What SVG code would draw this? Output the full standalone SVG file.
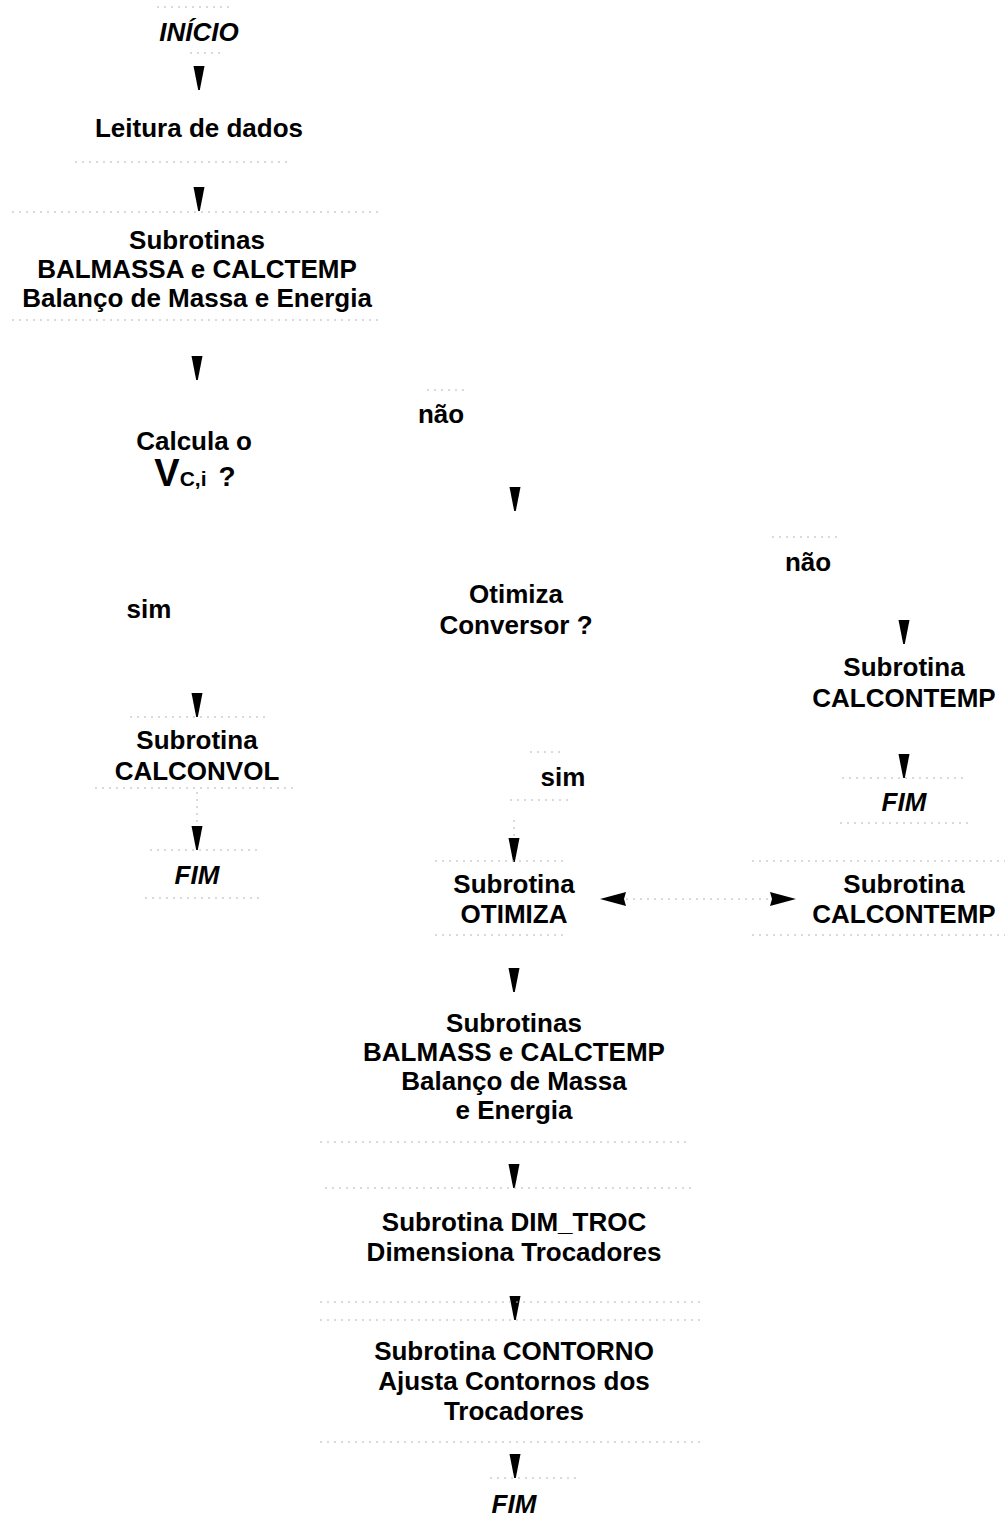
<svg xmlns="http://www.w3.org/2000/svg" width="1007" height="1526" viewBox="0 0 1007 1526">
<style>
.t{font-family:"Liberation Sans",Arial,sans-serif;font-weight:bold;font-size:26px;fill:#000;text-anchor:middle}
.i{font-style:italic}
.f{fill:none;stroke:#b4b4b4;stroke-width:1;stroke-dasharray:2 5}
.a{fill:#000}
</style>
<defs>
<path id="ad" d="M-5.5,-24 L5.5,-24 L0.8,0 L-0.8,0 Z"/>
<path id="al" d="M0,0 L26,-7 L24,0 L26,7 Z"/>
</defs>
<rect width="1007" height="1526" fill="#fff"/>

<g id="connectors">
<use href="#ad" class="a" x="199" y="90"/>
<use href="#ad" class="a" x="199" y="211"/>
<use href="#ad" class="a" x="197" y="380"/>
<use href="#ad" class="a" x="515" y="511"/>
<use href="#ad" class="a" x="904" y="644"/>
<use href="#ad" class="a" x="197" y="717"/>
<use href="#ad" class="a" x="904" y="778"/>
<line class="f" x1="197" y1="792" x2="197" y2="826"/>
<use href="#ad" class="a" x="197" y="850"/>
<line class="f" x1="514" y1="820" x2="514" y2="840"/>
<use href="#ad" class="a" x="514" y="862"/>
<use href="#ad" class="a" x="514" y="992"/>
<use href="#ad" class="a" x="514" y="1188"/>
<use href="#ad" class="a" x="515" y="1320"/>
<use href="#ad" class="a" x="515" y="1478"/>
<line class="f" x1="626" y1="899" x2="772" y2="899"/>
<use href="#al" class="a" transform="translate(600,899)"/>
<use href="#al" class="a" transform="translate(796,899) scale(-1,1)"/>
</g>

<g id="inicio">
<line class="f" x1="157" y1="7" x2="232" y2="7"/>
<line class="f" x1="190" y1="53" x2="222" y2="53"/>
<text class="t i" x="199" y="41">INÍCIO</text>
</g>

<g id="leitura">
<text class="t" x="199" y="137">Leitura de dados</text>
<line class="f" x1="75" y1="162" x2="292" y2="162"/>
</g>

<g id="balmassa1">
<line class="f" x1="12" y1="212" x2="378" y2="212"/>
<text class="t" x="197" y="249">Subrotinas</text>
<text class="t" x="197" y="278">BALMASSA e CALCTEMP</text>
<text class="t" x="197" y="307" font-size="27">Balanço de Massa e Energia</text>
<line class="f" x1="12" y1="320" x2="378" y2="320"/>
</g>

<g id="decisao1">
<text class="t" x="194" y="450">Calcula o</text>
<text class="t" x="195" y="486"><tspan font-size="38">V</tspan><tspan font-size="21">C,i</tspan><tspan font-size="28" dx="12">?</tspan></text>
</g>

<g id="nao1">
<line class="f" x1="427" y1="390" x2="465" y2="390"/>
<text class="t" x="441" y="423">não</text>
</g>

<g id="sim1">
<text class="t" x="149" y="618">sim</text>
</g>

<g id="decisao2">
<text class="t" x="516" y="603">Otimiza</text>
<text class="t" x="516" y="634">Conversor ?</text>
</g>

<g id="nao2">
<line class="f" x1="772" y1="537" x2="838" y2="537"/>
<text class="t" x="808" y="571">não</text>
</g>

<g id="calcontemp1">
<text class="t" x="904" y="676">Subrotina</text>
<text class="t" x="904" y="707">CALCONTEMP</text>
</g>

<g id="calconvol">
<line class="f" x1="130" y1="717" x2="265" y2="717"/>
<text class="t" x="197" y="749">Subrotina</text>
<text class="t" x="197" y="780">CALCONVOL</text>
<line class="f" x1="95" y1="788" x2="298" y2="788"/>
</g>

<g id="fim1">
<line class="f" x1="150" y1="850" x2="262" y2="850"/>
<text class="t i" x="197" y="884">FIM</text>
<line class="f" x1="145" y1="898" x2="262" y2="898"/>
</g>

<g id="sim2">
<line class="f" x1="530" y1="752" x2="560" y2="752"/>
<text class="t" x="563" y="786">sim</text>
<line class="f" x1="510" y1="800" x2="570" y2="800"/>
</g>

<g id="fim2">
<line class="f" x1="842" y1="778" x2="965" y2="778"/>
<text class="t i" x="904" y="811">FIM</text>
<line class="f" x1="840" y1="823" x2="968" y2="823"/>
</g>

<g id="otimiza">
<line class="f" x1="435" y1="861" x2="567" y2="861"/>
<text class="t" x="514" y="893">Subrotina</text>
<text class="t" x="514" y="923">OTIMIZA</text>
<line class="f" x1="435" y1="935" x2="567" y2="935"/>
</g>

<g id="calcontemp2">
<line class="f" x1="752" y1="861" x2="1005" y2="861"/>
<text class="t" x="904" y="893">Subrotina</text>
<text class="t" x="904" y="923">CALCONTEMP</text>
<line class="f" x1="752" y1="935" x2="1005" y2="935"/>
</g>

<g id="balmassa2">
<text class="t" x="514" y="1032">Subrotinas</text>
<text class="t" x="514" y="1061">BALMASS e CALCTEMP</text>
<text class="t" x="514" y="1090">Balanço de Massa</text>
<text class="t" x="514" y="1119">e Energia</text>
<line class="f" x1="320" y1="1142" x2="690" y2="1142"/>
</g>

<g id="dimtroc">
<line class="f" x1="325" y1="1188" x2="695" y2="1188"/>
<text class="t" x="514" y="1231">Subrotina DIM_TROC</text>
<text class="t" x="514" y="1261">Dimensiona Trocadores</text>
<line class="f" x1="320" y1="1302" x2="700" y2="1302"/>
</g>

<g id="contorno">
<line class="f" x1="320" y1="1320" x2="705" y2="1320"/>
<text class="t" x="514" y="1360">Subrotina CONTORNO</text>
<text class="t" x="514" y="1390">Ajusta Contornos dos</text>
<text class="t" x="514" y="1420">Trocadores</text>
<line class="f" x1="320" y1="1442" x2="700" y2="1442"/>
</g>

<g id="fim3">
<line class="f" x1="490" y1="1478" x2="578" y2="1478"/>
<text class="t i" x="514" y="1513">FIM</text>
</g>
</svg>
